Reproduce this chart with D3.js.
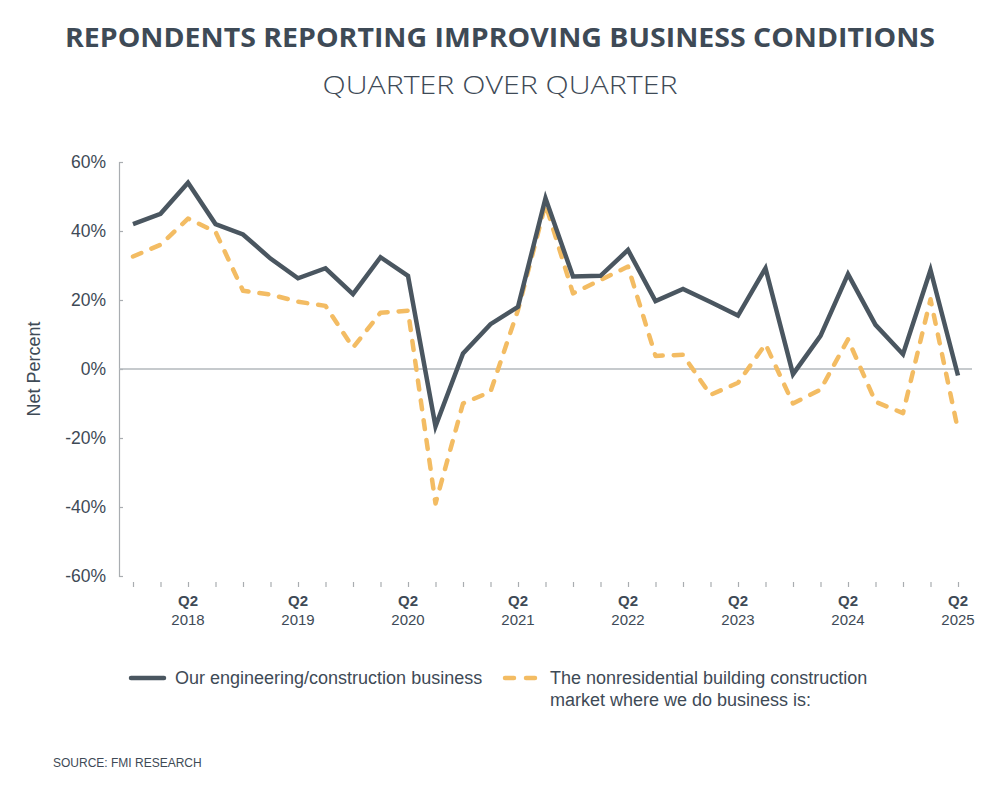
<!DOCTYPE html>
<html>
<head>
<meta charset="utf-8">
<script src="https://cdn.jsdelivr.net/npm/d3@7"></script>
<style>
  body { margin: 0; background: #fff; }
  svg text { font-family: "Liberation Sans", Arial, sans-serif; fill: #3e4a56; }
</style>
</head>
<body>
<svg id="chart" width="1000" height="802"></svg>
<script>
// quarters, Q4 2017 .. Q2 2025
const quarters = [
    "Q4 2017",
    "Q1 2018", "Q2 2018", "Q3 2018", "Q4 2018",
    "Q1 2019", "Q2 2019", "Q3 2019", "Q4 2019",
    "Q1 2020", "Q2 2020", "Q3 2020", "Q4 2020",
    "Q1 2021", "Q2 2021", "Q3 2021", "Q4 2021",
    "Q1 2022", "Q2 2022", "Q3 2022", "Q4 2022",
    "Q1 2023", "Q2 2023", "Q3 2023", "Q4 2023",
    "Q1 2024", "Q2 2024", "Q3 2024", "Q4 2024",
    "Q1 2025", "Q2 2025"
];

const ourBusiness = [
    42,
    45, 54, 42, 39,
    32, 26.3, 29.2, 21.7,
    32.4, 27, -16.6, 4.5,
    13, 18, 49.5, 26.8,
    27, 34.5, 19.7, 23.2,
    19.4, 15.5, 29.2, -1.5,
    9.6, 27.5, 12.8, 4.3,
    28.7, -1.9
];

const marketOutlook = [
    32.6,
    36, 43.6, 39.8, 22.7,
    21.6, 19.5, 18.3, 6.2,
    16.3, 16.9, -39, -10,
    -6.6, 17.1, 47.8, 21.9,
    25.8, 29.7, 3.8, 4.1,
    -7.5, -4, 7.2, -10,
    -6, 8.6, -9.5, -12.8,
    20.2, -17.7
];

const yTicks = [-60, -40, -20, 0, 20, 40, 60];

const seriesNames = [
    "Our engineering/construction business",
    ["The nonresidential building construction", "market where we do business is:"]
];

const DARK = '#4a5660';
const GOLD = '#f3bc63';

let svg = d3.select('#chart');

// titles
svg.append('text')
    .attr('x', 500).attr('y', 47)
    .attr('text-anchor', 'middle')
    .style('font-family', '"Open Sans", sans-serif')
    .style('font-weight', 700)
    .style('font-size', '27px')
    .attr('textLength', 870)
    .attr('lengthAdjust', 'spacingAndGlyphs')
    .text('REPONDENTS REPORTING IMPROVING BUSINESS CONDITIONS');

svg.append('text')
    .attr('x', 500).attr('y', 94)
    .attr('text-anchor', 'middle')
    .style('font-family', '"Open Sans", sans-serif')
    .style('font-weight', 300)
    .style('font-size', '26px')
    .attr('textLength', 355)
    .attr('lengthAdjust', 'spacingAndGlyphs')
    .text('QUARTER OVER QUARTER');

let x = d3.scalePoint()
    .domain(quarters)
    .range([133, 958]);

let y = d3.scaleLinear()
    .domain([-60, 60])
    .range([576, 162]);

// y axis
let yAxis = svg.append('g')
    .attr('transform', 'translate(119,0)')
    .call(d3.axisRight(y).tickValues(yTicks).tickSize(4).tickFormat(''));
yAxis.select('.domain').attr('stroke', '#a9adb1').attr('stroke-width', 1.2);
yAxis.selectAll('.tick line').attr('stroke', '#a9adb1').attr('stroke-width', 1.2);

svg.append('g').selectAll('text')
    .data(yTicks)
    .join('text')
        .attr('x', 106)
        .attr('y', d => y(d) + 6)
        .attr('text-anchor', 'end')
        .style('font-size', '17.5px')
        .text(d => d + '%');

svg.append('text')
    .attr('transform', 'translate(40,' + y(0) + ') rotate(-90)')
    .attr('text-anchor', 'middle')
    .style('font-size', '18px')
    .text('Net Percent');

// zero line
svg.append('line')
    .attr('x1', 119).attr('x2', 972)
    .attr('y1', y(0)).attr('y2', y(0))
    .attr('stroke', '#b3b8bd')
    .attr('stroke-width', 1.5);

// x ticks
let xAxis = svg.append('g')
    .attr('transform', 'translate(0,582)')
    .call(d3.axisBottom(x).tickSize(5).tickFormat(''));
xAxis.select('.domain').remove();
xAxis.selectAll('.tick line').attr('stroke', '#a9adb1').attr('stroke-width', 1.2);

let q2 = quarters.filter(q => q.startsWith('Q2'));
let lbl = svg.append('g').selectAll('g')
    .data(q2)
    .join('g')
        .attr('transform', d => 'translate(' + x(d) + ',0)');
lbl.append('text')
    .attr('y', 606)
    .attr('text-anchor', 'middle')
    .style('font-size', '15px')
    .style('font-weight', 700)
    .text(d => d.split(' ')[0]);
lbl.append('text')
    .attr('y', 625)
    .attr('text-anchor', 'middle')
    .style('font-size', '15px')
    .text(d => d.split(' ')[1]);

// lines
let line = d3.line()
    .x((d, i) => x(quarters[i]))
    .y(d => y(d));

svg.append('path')
    .datum(marketOutlook)
    .attr('d', line)
    .attr('fill', 'none')
    .attr('stroke', GOLD)
    .attr('stroke-width', 4.5)
    .attr('stroke-linecap', 'round')
    .attr('stroke-linejoin', 'round')
    .attr('stroke-dasharray', '9 11');

svg.append('path')
    .datum(ourBusiness)
    .attr('d', line)
    .attr('fill', 'none')
    .attr('stroke', DARK)
    .attr('stroke-width', 4.5)
    .attr('stroke-linejoin', 'miter');

// legend
let leg = svg.append('g');
leg.append('line')
    .attr('x1', 131).attr('x2', 164)
    .attr('y1', 678).attr('y2', 678)
    .attr('stroke', DARK)
    .attr('stroke-width', 4.5)
    .attr('stroke-linecap', 'round');
leg.append('text')
    .attr('x', 175).attr('y', 684)
    .style('font-size', '18px')
    .text(seriesNames[0]);

leg.append('line')
    .attr('x1', 505).attr('x2', 535)
    .attr('y1', 678).attr('y2', 678)
    .attr('stroke', GOLD)
    .attr('stroke-width', 4.5)
    .attr('stroke-linecap', 'round')
    .attr('stroke-dasharray', '9 12');
leg.append('text')
    .attr('x', 550).attr('y', 684)
    .style('font-size', '18px')
    .selectAll('tspan')
    .data(seriesNames[1])
    .join('tspan')
        .attr('x', 550)
        .attr('dy', (d, i) => i ? 22 : 0)
        .text(d => d);

svg.append('text')
    .attr('x', 53).attr('y', 767)
    .style('font-size', '12px')
    .text('SOURCE: FMI RESEARCH');
</script>
</body>
</html>
